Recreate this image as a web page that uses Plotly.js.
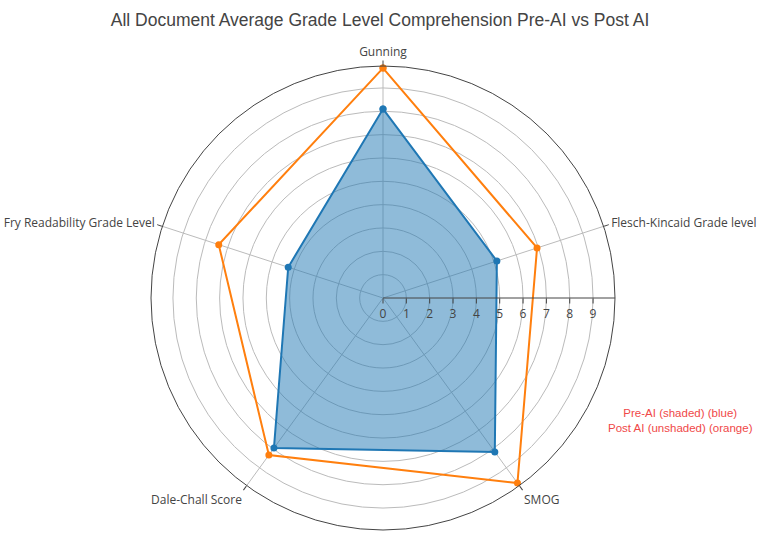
<!DOCTYPE html>
<html>
<head>
<meta charset="utf-8">
<script src="https://cdn.plot.ly/plotly-3.0.1.min.js"></script>
<style>html,body{margin:0;padding:0;background:#fff;}#chart{width:760px;height:536px;}</style>
</head>
<body>
<div id="chart"></div>
<script>
// Categories (counterclockwise from top)
const categories = ["Gunning", "Fry Readability Grade Level", "Dale-Chall Score", "SMOG", "Flesch-Kincaid Grade level"];
const preAI = [8.1, 4.27, 7.95, 8.15, 5.13];
const postAI = [9.85, 7.4, 8.32, 9.8, 6.94];
const radialTicks = [0, 1, 2, 3, 4, 5, 6, 7, 8, 9];
const titleText = "All Document Average Grade Level Comprehension Pre-AI vs Post AI";
const noteText = "Pre-AI (shaded) (blue)<br>Post AI (unshaded) (orange)";

function closeLoop(arr) { return arr.concat([arr[0]]); }

const traces = [
  {
    type: "scatterpolar",
    r: closeLoop(preAI),
    theta: closeLoop(categories),
    mode: "lines+markers",
    fill: "toself",
    fillcolor: "rgba(31,119,180,0.5)",
    line: {color: "#1f77b4", width: 2},
    marker: {color: "#1f77b4", size: 7},
    showlegend: false
  },
  {
    type: "scatterpolar",
    r: closeLoop(postAI),
    theta: closeLoop(categories),
    mode: "lines+markers",
    line: {color: "#ff7f0e", width: 2},
    marker: {color: "#ff7f0e", size: 7},
    showlegend: false
  }
];

const layout = {
  width: 760,
  height: 536,
  margin: {l: 151, r: 145, t: 66, b: 6},
  paper_bgcolor: "#fff",
  font: {family: "Open Sans, sans-serif", color: "#444", size: 12},
  title: {
    text: titleText,
    x: 0.5,
    xref: "container",
    y: 0.963,
    yref: "container",
    yanchor: "middle",
    font: {family: "Liberation Sans, Arial, sans-serif", size: 17.5, color: "#444"}
  },
  polar: {
    bgcolor: "#fff",
    radialaxis: {
      range: [0, 9.94],
      tickvals: radialTicks,
      ticktext: radialTicks.map(String),
      showline: true,
      linecolor: "#444",
      ticks: "outside",
      ticklen: 5,
      tickcolor: "#444",
      gridcolor: "#bbb",
      angle: 0,
      tickfont: {size: 12, color: "#444"}
    },
    angularaxis: {
      rotation: 90,
      direction: "counterclockwise",
      linecolor: "#444",
      gridcolor: "#bbb",
      ticks: "outside",
      ticklen: 5,
      tickcolor: "#444",
      tickfont: {size: 12, color: "#444"}
    }
  },
  annotations: [
    {
      text: noteText,
      xref: "paper",
      yref: "paper",
      x: 1.142,
      y: 0.235,
      xanchor: "center",
      yanchor: "middle",
      showarrow: false,
      align: "center",
      font: {family: "Liberation Sans, Arial, sans-serif", size: 11.5, color: "#f04848"}
    }
  ]
};

Plotly.newPlot("chart", traces, layout, {displayModeBar: false});
</script>
</body>
</html>
